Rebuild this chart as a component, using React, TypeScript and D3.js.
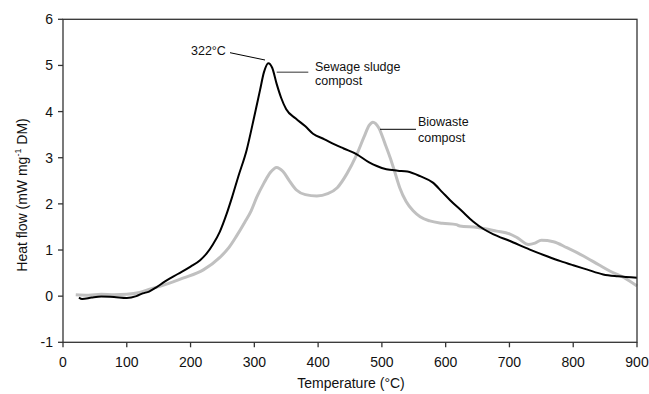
import React from "react";
import * as d3 from "d3";

const sewageT = [25, 30, 45, 60, 80, 100, 115, 125, 135, 145, 160, 180, 200, 215, 225, 235, 246, 256, 265, 275, 288, 300, 309, 315, 322, 328, 335, 342, 350, 365, 380, 392, 410, 424, 440, 460, 480, 492, 507, 525, 540, 560, 580, 595, 607, 625, 643, 660, 675, 700, 732, 760, 780, 800, 821, 847, 870, 900];
const sewageV = [-0.03, -0.06, -0.03, -0.01, -0.02, -0.04, 0.0, 0.06, 0.1, 0.18, 0.32, 0.48, 0.64, 0.78, 0.92, 1.12, 1.4, 1.76, 2.14, 2.6, 3.17, 3.9, 4.47, 4.85, 5.05, 4.95, 4.6, 4.3, 4.05, 3.85, 3.68, 3.52, 3.4, 3.3, 3.2, 3.08, 2.9, 2.82, 2.75, 2.72, 2.7, 2.6, 2.46, 2.25, 2.08, 1.85, 1.62, 1.45, 1.34, 1.2, 1.01, 0.86, 0.76, 0.67, 0.58, 0.47, 0.43, 0.4];

const bioT = [20, 40, 60, 80, 100, 120, 136, 160, 188, 220, 246, 260, 272, 285, 295, 304, 315, 325, 335, 345, 355, 366, 380, 398, 415, 430, 445, 460, 472, 480, 486, 495, 505, 513, 520, 528, 538, 549, 560, 575, 595, 617, 622, 650, 680, 700, 712, 730, 740, 750, 769, 790, 816, 840, 858, 880, 900];
const bioV = [0.03, 0.02, 0.04, 0.03, 0.04, 0.08, 0.15, 0.25, 0.39, 0.57, 0.84, 1.05, 1.3, 1.6, 1.85, 2.15, 2.45, 2.68, 2.79, 2.7, 2.5, 2.3, 2.2, 2.17, 2.22, 2.35, 2.65, 3.05, 3.45, 3.7, 3.77, 3.65, 3.3, 3.0, 2.7, 2.35, 2.05, 1.85, 1.72, 1.63, 1.58, 1.55, 1.52, 1.49, 1.41, 1.35, 1.27, 1.12, 1.15, 1.21, 1.18, 1.05, 0.87, 0.68, 0.54, 0.4, 0.22];

const xTicks = [0, 100, 200, 300, 400, 500, 600, 700, 800, 900];
const yTicks = [-1, 0, 1, 2, 3, 4, 5, 6];

const W = 649;
const H = 394;
const left = 63;
const right = 637;
const top = 19.3;
const bottom = 342.3;
const FONT = "Liberation Sans, Arial, sans-serif";

export default function App() {
  const x = d3.scaleLinear().domain([0, 900]).range([left, right]);
  const y = d3.scaleLinear().domain([-1, 6]).range([bottom, top]);
  const line = d3
    .line<[number, number]>()
    .x((d) => x(d[0]))
    .y((d) => y(d[1]))
    .curve(d3.curveMonotoneX);
  const sewage = sewageT.map((t, i) => [t, sewageV[i]] as [number, number]);
  const bio = bioT.map((t, i) => [t, bioV[i]] as [number, number]);
  const axisColor = "#333";

  return (
    <svg
      width={W}
      height={H}
      style={{ position: "absolute", left: 0, top: 0, background: "#fff" }}
      fontFamily={FONT}
    >
      <rect x={0} y={0} width={W} height={H} fill="#fff" />
      <path d={line(bio) || ""} fill="none" stroke="#c0c0c0" strokeWidth={3} />
      <path d={line(sewage) || ""} fill="none" stroke="#000" strokeWidth={2} />
      <rect
        x={left}
        y={top}
        width={right - left}
        height={bottom - top}
        fill="none"
        stroke={axisColor}
        strokeWidth={1.3}
      />
      {yTicks.map((v) => (
        <g key={"y" + v}>
          <line x1={left - 5} x2={left} y1={y(v)} y2={y(v)} stroke={axisColor} strokeWidth={1.3} />
          <text x={53} y={y(v)} dy="0.36em" textAnchor="end" fontSize={14} fill="#111">
            {v}
          </text>
        </g>
      ))}
      {xTicks.map((t) => (
        <g key={"x" + t}>
          <line x1={x(t)} x2={x(t)} y1={bottom} y2={bottom + 5} stroke={axisColor} strokeWidth={1.3} />
          <text x={x(t)} y={367} textAnchor="middle" fontSize={14} fill="#111">
            {t}
          </text>
        </g>
      ))}
      <text x={(left + right) / 2 + 1} y={388} textAnchor="middle" fontSize={14} fill="#111">
        Temperature (°C)
      </text>
      <text
        transform={`translate(26.5, 195) rotate(-90)`}
        textAnchor="middle"
        fontSize={14}
        fill="#111"
      >
        Heat flow (mW mg<tspan dy={-6} fontSize={9}>-1</tspan>
        <tspan dy={6}> DM)</tspan>
      </text>
      {/* annotations */}
      <text x={191} y={54.5} fontSize={12.5} fill="#111">322°C</text>
      <line x1={230} y1={52.7} x2={265} y2={60} stroke="#000" strokeWidth={1} />
      <line x1={276.7} y1={72.3} x2={308.3} y2={72.3} stroke="#777" strokeWidth={1.5} />
      <text x={315} y={70.5} fontSize={12.5} fill="#111">Sewage sludge</text>
      <text x={315} y={85} fontSize={12.5} fill="#111">compost</text>
      <line x1={380} y1={129.3} x2={416} y2={129.3} stroke="#000" strokeWidth={1} />
      <text x={418} y={126} fontSize={12.5} fill="#111">Biowaste</text>
      <text x={418} y={141.5} fontSize={12.5} fill="#111">compost</text>
    </svg>
  );
}
